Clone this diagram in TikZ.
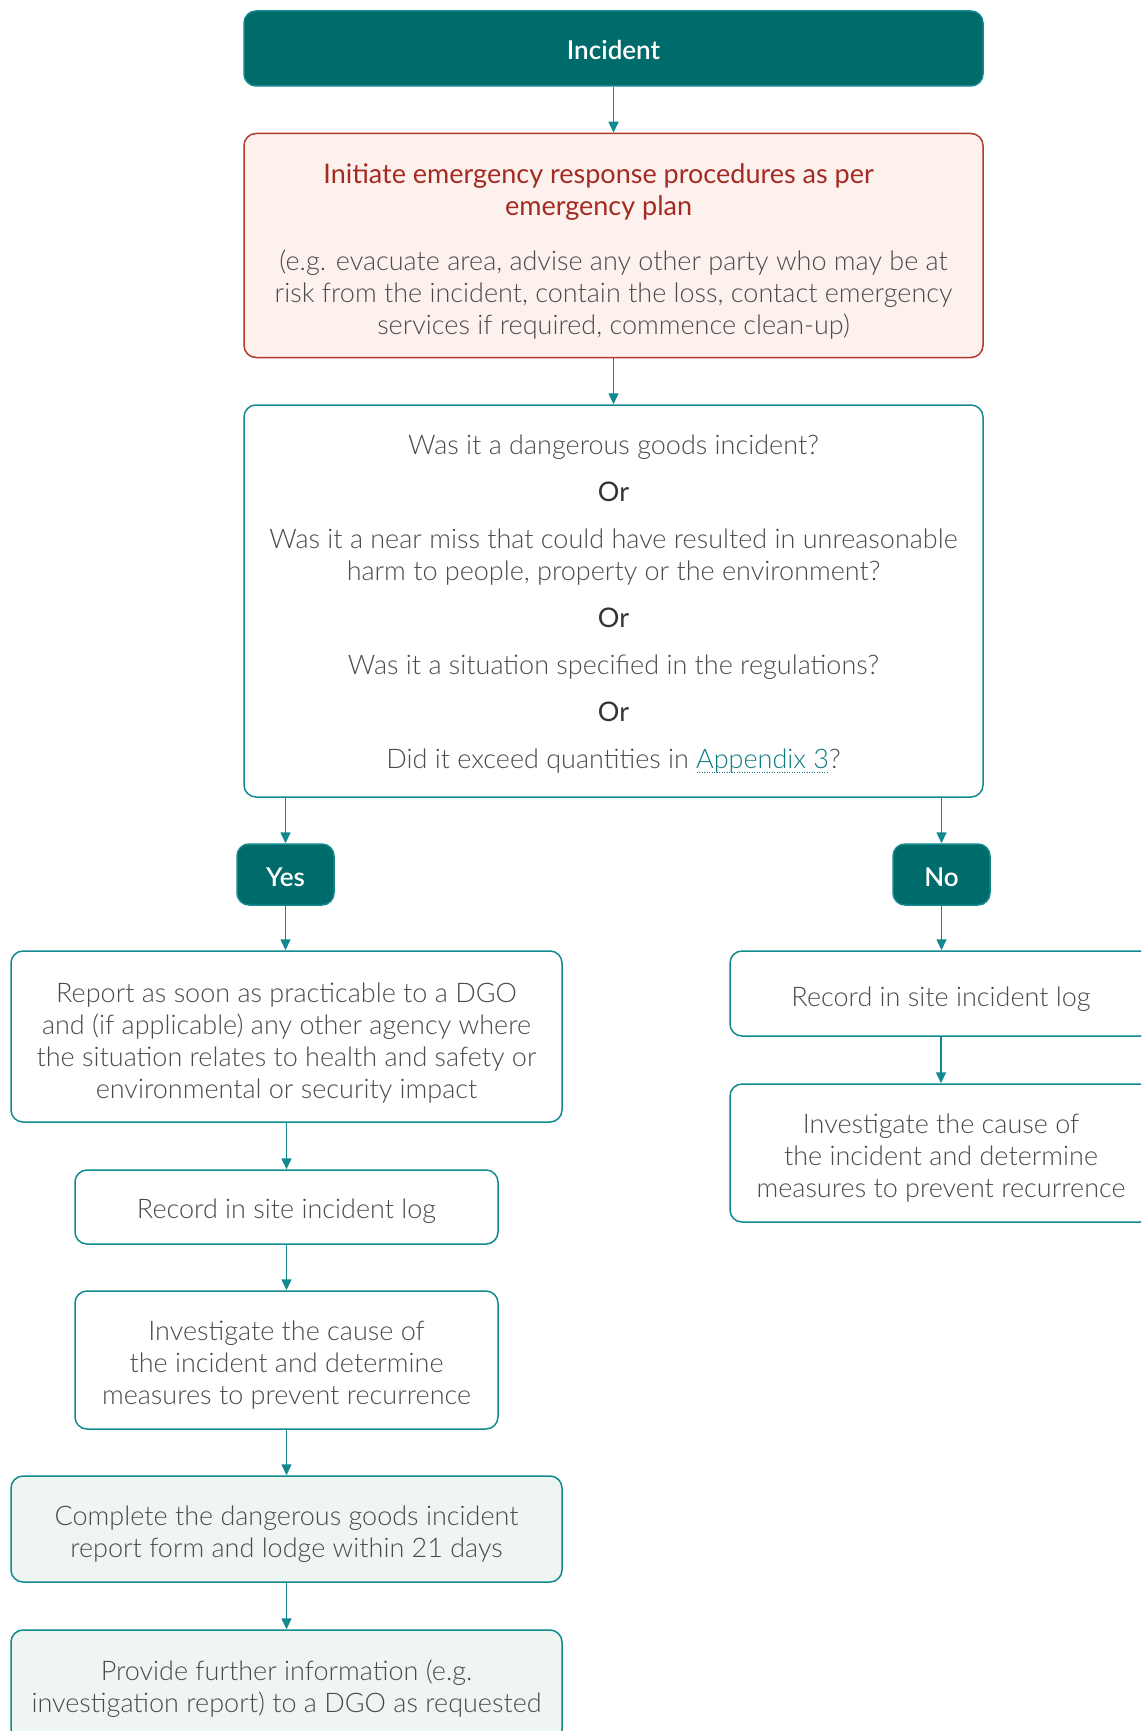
\documentclass[tikz,border=0pt]{standalone}
\usepackage{fontspec}
\setmainfont{Lato}[UprightFont=* Light, BoldFont=* Bold]
\newfontfamily\medfont{Lato}[UprightFont=* Semibold]
\newfontfamily\regfont{Lato}[UprightFont=* Regular]
\usetikzlibrary{arrows.meta}
\definecolor{darkteal}{HTML}{006B6B}
\definecolor{tealline}{HTML}{11898F}
\definecolor{linkteal}{HTML}{0E7C80}
\definecolor{redline}{HTML}{B03A2E}
\definecolor{redfill}{HTML}{FDF1EE}
\definecolor{redtext}{HTML}{A52A22}
\definecolor{txtgray}{HTML}{4A4A4A}
\definecolor{ortext}{HTML}{333333}
\definecolor{greenfill}{HTML}{EFF6F2}
\newcommand\apxline[1]{\setbox0\hbox{{\color{linkteal}#1}}\leavevmode\rlap{\raisebox{-4pt}{\hbox to \wd0{{\color{linkteal}\leaders\hbox to 2.5pt{\hss\rule{1pt}{1pt}\hss}\hfill}}}}\box0}
\newcommand\orline{\regfont\color{ortext}Or}
\begin{document}
\begin{tikzpicture}[x=1pt,y=-1pt,
  base/.style={rectangle, rounded corners=12pt, line width=1.5pt, inner sep=0pt},
  box/.style={base, draw=tealline, fill=white},
  greenbox/.style={base, draw=tealline, fill=greenfill},
  redbox/.style={base, draw=redline, fill=redfill},
  darkbox/.style={base, draw=tealline, fill=darkteal},
  txt/.style={align=center, inner sep=0pt, text=txtgray, font=\fontsize{27}{32}\selectfont},
  redtxt/.style={align=center, inner sep=0pt, text=redtext, font=\fontsize{27}{32}\regfont},
  whitetxt/.style={align=center, inner sep=0pt, text=white, font=\fontsize{26}{32}\medfont},
  arr/.style={draw=tealline, line width=1.5pt, -{Triangle[length=11pt,width=10pt]}}
]
\useasboundingbox (0,0) rectangle (1141,1731);
\begin{scope}
\clip (0,0) rectangle (1141,1731);
\fill[white] (0,0) rectangle (1141,1731);

% boxes
\node[darkbox, minimum width=739pt, minimum height=75pt] (inc) at (613.5,48.5) {};
\node[redbox, minimum width=739pt, minimum height=224pt] (emg) at (613.5,245.5) {};
\node[box, minimum width=739pt, minimum height=392pt] (q) at (613.5,601) {};
\node[darkbox, minimum width=97pt, minimum height=61pt] (yes) at (285.5,874.5) {};
\node[darkbox, minimum width=97pt, minimum height=61pt] (no) at (941.5,874.5) {};
\node[box, minimum width=551pt, minimum height=171pt] (rep) at (286.5,1036.5) {};
\node[box, minimum width=423pt, minimum height=74pt] (recl) at (286.5,1207) {};
\node[box, minimum width=423pt, minimum height=138pt] (invl) at (286.5,1360) {};
\node[greenbox, minimum width=551pt, minimum height=106pt] (comp) at (286.5,1529) {};
\node[greenbox, minimum width=551pt, minimum height=112pt] (prov) at (286.5,1686) {};
\node[box, minimum width=422pt, minimum height=85pt] (recr) at (941,993.5) {};
\node[box, minimum width=422pt, minimum height=138pt] (invr) at (941,1153) {};

% texts
\node[whitetxt] (inc-t) at (613.5,49.5) {Incident};
\node[redtxt] (emg-title) at (598.6,192)
 {Initiate emergency response procedures as per\\ emergency plan};
\node[txt] (emg-body) at (613.5,295)
 {(e.g. evacuate area, advise any other party who may be at\\
  risk from the incident, contain the loss, contact emergency\\
  services if required, commence clean-up)};
\node[txt] (q-t) at (613.5,604.5)
 {Was it a dangerous goods incident?\\[15pt]
  \orline\\[15pt]
  \color{txtgray}\rmfamily Was it a near miss that could have resulted in unreasonable\\
  \color{txtgray}\rmfamily harm to people, property or the environment?\\[15pt]
  \orline\\[15pt]
  \color{txtgray}\rmfamily Was it a situation specified in the regulations?\\[15pt]
  \orline\\[15pt]
  \color{txtgray}\rmfamily Did it exceed quantities in \apxline{Appendix 3}?};
\node[whitetxt] (yes-t) at (285.5,877) {Yes};
\node[whitetxt] (no-t) at (941.5,877) {No};
\node[txt] (rep-t) at (286.5,1042.7)
 {Report as soon as practicable to a DGO\\
  and (if applicable) any other agency where\\
  the situation relates to health and safety or\\
  environmental or security impact};
\node[txt] (recl-t) at (286.5,1211) {Record in site incident log};
\node[txt] (invl-t) at (286.5,1365.5)
 {Investigate the cause of\\ the incident and determine\\ measures to prevent recurrence};
\node[txt] (comp-t) at (286.5,1533.8)
 {Complete the dangerous goods incident\\ report form and lodge within 21 days};
\node[txt] (prov-t) at (286.5,1688.3)
 {Provide further information (e.g.\\ investigation report) to a DGO as requested};
\node[txt] (recr-t) at (941,999.2) {Record in site incident log};
\node[txt] (invr-t) at (941,1158.1)
 {Investigate the cause of\\ the incident and determine\\ measures to prevent recurrence};

% connectors
\draw[arr] (inc.south) -- (emg.north);
\draw[arr] (emg.south) -- (q.north);
\draw[arr] (q.south -| yes.north) -- (yes.north);
\draw[arr] (q.south -| no.north) -- (no.north);
\draw[arr] (yes.south) -- (rep.north -| yes.south);
\draw[arr] (no.south) -- (recr.north -| no.south);
\draw[arr] (rep.south) -- (recl.north);
\draw[arr] (recl.south) -- (invl.north);
\draw[arr] (invl.south) -- (comp.north);
\draw[arr] (comp.south) -- (prov.north);
\draw[arr] (recr.south) -- (invr.north);
\end{scope}
\end{tikzpicture}
\end{document}
